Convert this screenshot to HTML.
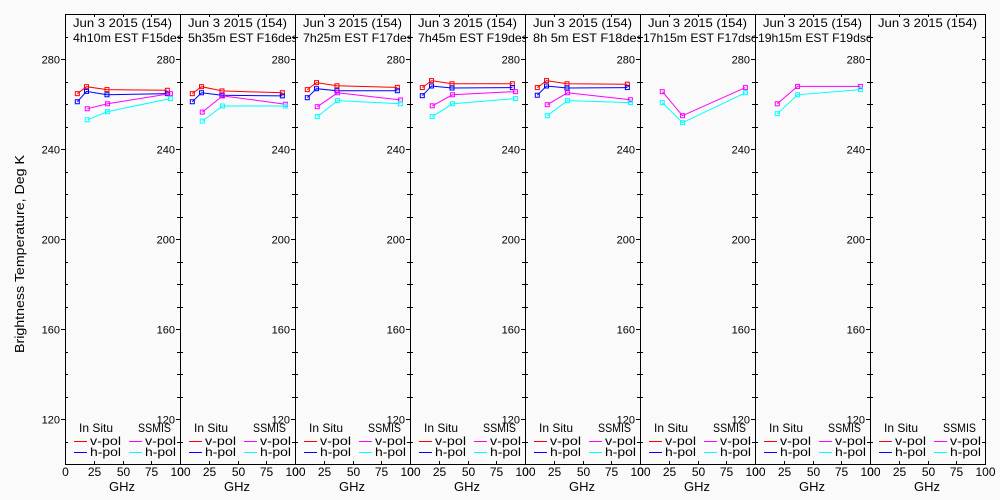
<!DOCTYPE html>
<html><head><meta charset="utf-8"><style>
html,body{margin:0;padding:0;background:#fafafa;}
svg{display:block;font-family:"Liberation Sans",sans-serif;}
</style></head><body>
<svg id="chart" width="1000" height="500" viewBox="0 0 1000 500">
<rect x="0" y="0" width="1000" height="500" fill="#fafafa"/>
<text x="0" y="0" transform="translate(24,254) rotate(-90)" text-anchor="middle" font-size="13" textLength="198" lengthAdjust="spacingAndGlyphs" fill="#000">Brightness Temperature, Deg K</text>
<g id="panels"></g>
</svg>
<script>
const titleLine1 = "Jun 3 2015 (154)";
const titleLine2 = ["4h10m EST F15des","5h35m EST F16des","7h25m EST F17des","7h45m EST F19des","8h 5m EST F18des","17h15m EST F17dsc","19h15m EST F19dsc",""];
const insituFreq = [10.7, 18.7, 36.5, 89];
const ssmisFreq = [19.35, 37, 91.65];
const insituV = [[264.6,267.7,266.4,266.1],[264.6,267.7,265.8,265.0],[266.4,269.5,268.1,267.4],[267.3,270.4,269.0,269.0],[267.3,270.4,269.0,268.8],null,null,null];
const insituH = [[261.0,265.6,264.1,264.6],[261.0,265.0,263.9,263.6],[262.8,266.8,265.9,265.9],[263.7,268.0,267.1,267.3],[263.9,268.0,267.1,267.3],null,null,null];
const ssmisV = [[257.9,260.1,264.6],[256.4,263.6,259.9],[258.8,265.0,261.8],[259.2,264.1,265.5],[259.7,265.0,261.9],[265.5,254.8,267.3],[260.1,267.8,267.8],null];
const ssmisH = [[253.0,256.6,262.4],[252.4,259.1,259.1],[254.4,261.5,260.1],[254.4,260.1,262.4],[254.8,261.5,260.6],[260.6,251.7,265.0],[255.7,264.1,266.4],null];
const yTicks = [120,160,200,240,280];
const xTicks = [0,25,50,75,100];

const NS="http://www.w3.org/2000/svg";
const g=document.getElementById('panels');
const X0=65, PW=115, TOP=14, BOT=464;
const yScale=v=>TOP+(300-v)*(BOT-TOP)/200;
const xScale=(p,f)=>X0+p*PW+f*PW/100;
function mk(tag,attrs,parent){const e=document.createElementNS(NS,tag);for(const k in attrs)e.setAttribute(k,attrs[k]);(parent||g).appendChild(e);return e;}
function series(p,freqs,vals,color,name){
  if(!vals)return;
  const pts=vals.map((v,i)=>xScale(p,freqs[i]).toFixed(1)+','+yScale(v).toFixed(1)).join(' ');
  const pl=mk('polyline',{points:pts,fill:'none',stroke:color,'stroke-width':1});
  
  
  vals.forEach((v,i)=>{
    const r=mk('rect',{x:xScale(p,freqs[i])-2,y:yScale(v)-2,width:4,height:4,fill:'none',stroke:color,'stroke-width':1});
    
    
  });
}
for(let p=0;p<8;p++){
  const L=X0+p*PW, R=L+PW;
  const fr=mk('rect',{x:L+0.5,y:TOP+0.5,width:PW,height:BOT-TOP,fill:'none',stroke:'#000','stroke-width':1});
  
  
  for(let v=110; v<=290; v+=10){
    const y=Math.round(yScale(v))+0.5;
    if(yTicks.includes(v)){
      mk('line',{x1:L-4,y1:y,x2:L+0.5,y2:y,stroke:'#000'});
      mk('line',{x1:R-3,y1:y,x2:R,y2:y,stroke:'#000'});
      const t=mk('text',{x:L-5,y:y+4,'text-anchor':'end','font-size':11,fill:'#000'});
      t.textContent=v;
      
      
    } else {
      mk('line',{x1:L,y1:y,x2:L+3,y2:y,stroke:'#000'});
      mk('line',{x1:R-3,y1:y,x2:R,y2:y,stroke:'#000'});
    }
  }
  xTicks.forEach(f=>{
    const x=Math.round(xScale(p,f))+0.5;
    mk('line',{x1:x,y1:BOT-3,x2:x,y2:BOT,stroke:'#000'});
    mk('line',{x1:x,y1:TOP,x2:x,y2:TOP+3,stroke:'#000'});
    const t=mk('text',{x:x,y:476,'text-anchor':'middle','font-size':12,fill:'#000'});
    t.textContent=f;
    
    
  });
  const gx=mk('text',{x:L+57,y:491,'text-anchor':'middle','font-size':13,fill:'#000'});
  gx.textContent='GHz';
  
  
  const t1=mk('text',{x:L+8,y:27,'font-size':12,textLength:99,lengthAdjust:'spacingAndGlyphs',fill:'#000'});
  t1.textContent=titleLine1;
  
  
  if(titleLine2[p]){
    const cp=mk('clipPath',{id:'cp'+p});
    mk('rect',{x:L+1,y:TOP,width:PW-1,height:40},cp);
    const tl=titleLine2[p];
    const t2=mk('text',{x:L+(tl.length>16?3:8),y:42,'font-size':12,textLength:tl.length>16?114:110,lengthAdjust:'spacingAndGlyphs','clip-path':'url(#cp'+p+')',fill:'#000'});
    t2.textContent=tl;
    
    
  }
  const lt=[['In Situ',L+14,432,34],['SSMIS',L+73,432,33],['v-pol',L+25,445,31],['v-pol',L+80,445,31],['h-pol',L+25,456,31],['h-pol',L+80,456,31]];
  lt.forEach(a=>{
    const t=mk('text',{x:a[1],y:a[2],'font-size':12,textLength:a[3],lengthAdjust:'spacingAndGlyphs',fill:'#000'});
    t.textContent=a[0];
    
    
  });
  [['#f00',L+9,441],['#00f',L+9,452],['#f0f',L+64,441],['#0ff',L+64,452]].forEach(a=>{
    const l=mk('line',{x1:a[1],y1:a[2]+0.5,x2:a[1]+13,y2:a[2]+0.5,stroke:a[0]});
    
    
  });
  series(p,insituFreq,insituV[p],'#f00','insitu-vpol');
  series(p,insituFreq,insituH[p],'#00f','insitu-hpol');
  series(p,ssmisFreq,ssmisV[p],'#f0f','ssmis-vpol');
  series(p,ssmisFreq,ssmisH[p],'#0ff','ssmis-hpol');
}
</script>
</body></html>
